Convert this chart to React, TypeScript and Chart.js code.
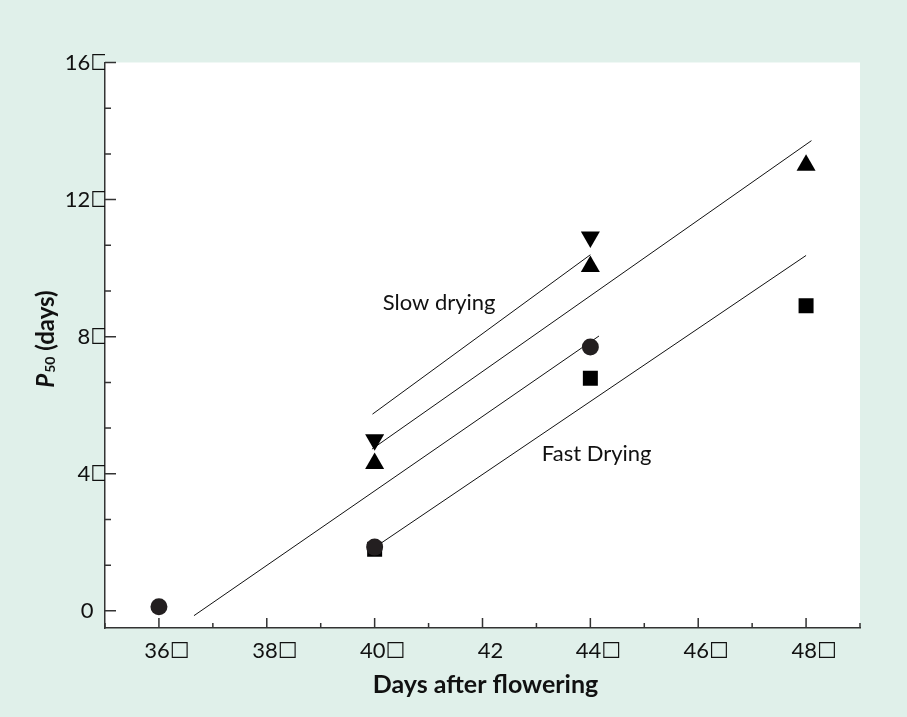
import React, { useEffect, useRef } from 'react';
import { Chart, registerables } from 'chart.js';

Chart.register(...registerables);

// ---- data ----
const BOX = '\u2610';
const xTickValues = [36, 38, 40, 42, 44, 46, 48];
const xTickLabels = ['36' + BOX, '38' + BOX, '40' + BOX, '42', '44' + BOX, '46' + BOX, '48' + BOX];
const yTickValues = [0, 4, 8, 12, 16];
const yTickLabels = ['0\u2003', '4' + BOX, '8' + BOX, '12' + BOX, '16' + BOX];

const circleX = [36, 40, 44];
const circleY = [0.12, 1.86, 7.7];
const squareX = [40, 44, 48];
const squareY = [1.8, 6.79, 8.9];
const upTriangleX = [40, 44, 48];
const upTriangleY = [4.3, 10.05, 13.0];
const downTriangleX = [40, 44];
const downTriangleY = [4.99, 10.91];

const downFitX = [39.96, 44.0];
const downFitY = [5.74, 10.39];
const upFitX = [39.95, 48.1];
const upFitY = [4.72, 13.72];
const circleFitX = [36.65, 44.16];
const circleFitY = [-0.14, 8.02];
const squareFitX = [40.0, 48.0];
const squareFitY = [1.85, 10.37];

const noteTexts = ['Slow drying', 'Fast Drying'];
const noteX = [40.15, 43.1];
const noteY = [8.77, 4.36];

const xTitle = 'Days after flowering';
const yTitleMain = 'P';
const yTitleSub = '50';
const yTitleRest = ' (days)';

const X_MIN = 35, X_MAX = 49, X_MINOR = 1;
const Y_MIN = -0.5, Y_MAX = 16, Y_MINOR = 4 / 3;

const BG = '#e0f0ea';
const AXIS = '#333333';
const INK = '#111111';
const FONT = 'Lato, "DejaVu Sans", sans-serif';

const pts = (xs: number[], ys: number[]) => xs.map((x, i) => ({ x, y: ys[i] }));

export default function App() {
  const ref = useRef<HTMLCanvasElement>(null);

  useEffect(() => {
    document.body.style.margin = '0';
    const canvas = ref.current!;

    const bgPlugin = {
      id: 'bgPlugin',
      beforeDraw(chart: any) {
        const { ctx, chartArea: a, width, height } = chart;
        ctx.save();
        ctx.fillStyle = BG;
        ctx.fillRect(0, 0, width, height);
        ctx.fillStyle = '#ffffff';
        ctx.fillRect(a.left, a.top, a.right - a.left, a.bottom - a.top);
        ctx.restore();
      },
    };

    const tickPlugin = {
      id: 'tickPlugin',
      beforeDatasetsDraw(chart: any) {
        const { ctx, chartArea: a, scales } = chart;
        const xs = scales.x, ys = scales.y;
        ctx.save();
        ctx.strokeStyle = AXIS;
        ctx.lineWidth = 1.5;
        ctx.beginPath();
        const nx = Math.round((X_MAX - X_MIN) / X_MINOR);
        for (let k = 0; k <= nx; k++) {
          const v = X_MIN + k * X_MINOR;
          const px = xs.getPixelForValue(v);
          const major = xTickValues.some((t) => Math.abs(t - v) < 1e-6);
          ctx.moveTo(px, a.bottom);
          ctx.lineTo(px, a.bottom - (major ? 10 : 5));
        }
        const ny = Math.round(Y_MAX / Y_MINOR);
        for (let k = 0; k <= ny; k++) {
          const v = k * Y_MINOR;
          const py = ys.getPixelForValue(v);
          const major = yTickValues.some((t) => Math.abs(t - v) < 1e-6);
          ctx.moveTo(a.left, py);
          ctx.lineTo(a.left + (major ? 11 : 6), py);
        }
        ctx.stroke();
        ctx.restore();
      },
    };

    const textPlugin = {
      id: 'textPlugin',
      afterDraw(chart: any) {
        const { ctx, chartArea: a, scales } = chart;
        ctx.save();
        ctx.fillStyle = INK;
        ctx.textBaseline = 'alphabetic';
        // notes
        ctx.font = `22px ${FONT}`;
        ctx.textAlign = 'left';
        noteTexts.forEach((t, i) => {
          ctx.fillText(t, scales.x.getPixelForValue(noteX[i]), scales.y.getPixelForValue(noteY[i]));
        });
        // x title
        ctx.font = `bold 25px ${FONT}`;
        ctx.textAlign = 'center';
        ctx.fillText(xTitle, (a.left + a.right) / 2 + 3, a.bottom + 65);
        // y title
        ctx.translate(a.left - 51.5, 339);
        ctx.rotate(-Math.PI / 2);
        ctx.textAlign = 'left';
        const fMain = `italic bold 24px ${FONT}`;
        const fSub = `bold 14px ${FONT}`;
        const fRest = `bold 24px ${FONT}`;
        ctx.font = fMain; const w1 = ctx.measureText(yTitleMain).width;
        ctx.font = fSub; const w2 = ctx.measureText(yTitleSub).width;
        ctx.font = fRest; const w3 = ctx.measureText(yTitleRest).width;
        let x0 = -(w1 + w2 + w3 + 1) / 2;
        ctx.font = fMain; ctx.fillText(yTitleMain, x0, 0); x0 += w1 + 1;
        ctx.font = fSub; ctx.fillText(yTitleSub, x0, 1); x0 += w2;
        ctx.font = fRest; ctx.fillText(yTitleRest, x0, 0);
        ctx.restore();
      },
    };

    const marker = (data: any, style: string, radius: number, color: string, rotation = 0) => ({
      data,
      pointStyle: style,
      pointRadius: radius,
      pointRotation: rotation,
      backgroundColor: color,
      borderColor: color,
      borderWidth: 0,
      showLine: false,
      order: 0,
    });
    const fit = (data: any) => ({
      data,
      showLine: true,
      borderColor: INK,
      borderWidth: 1,
      pointRadius: 0,
      fill: false,
      order: 1,
    });

    const chart = new Chart(canvas, {
      type: 'scatter',
      data: {
        datasets: [
          marker(pts(circleX, circleY), 'circle', 8.5, '#231f20'),
          marker(pts(squareX, squareY), 'rect', 10.6, '#000000'),
          marker(pts(upTriangleX, upTriangleY), 'triangle', 11, '#000000'),
          marker(pts(downTriangleX, downTriangleY), 'triangle', 11, '#000000', 180),
          fit(pts(downFitX, downFitY)),
          fit(pts(upFitX, upFitY)),
          fit(pts(circleFitX, circleFitY)),
          fit(pts(squareFitX, squareFitY)),
        ] as any,
      },
      options: {
        animation: false,
        responsive: false,
        layout: { padding: { left: 0, top: 62.5, right: 47, bottom: 0 } },
        plugins: { legend: { display: false }, tooltip: { enabled: false } },
        scales: {
          x: {
            type: 'linear',
            min: X_MIN,
            max: X_MAX,
            afterBuildTicks: (s: any) => { s.ticks = xTickValues.map((v) => ({ value: v })); },
            afterFit: (s: any) => { s.height = 89; },
            ticks: {
              callback: (v: any) => xTickLabels[xTickValues.indexOf(Number(v))] ?? '',
              font: { family: FONT, size: 22 },
              color: INK,
              padding: 10,
              labelOffset: 8,
              maxRotation: 0,
              autoSkip: false,
            },
            grid: { display: false, drawTicks: false, tickLength: 0 },
            border: { display: true, color: AXIS, width: 1.5 },
          },
          y: {
            type: 'linear',
            min: Y_MIN,
            max: Y_MAX,
            afterBuildTicks: (s: any) => { s.ticks = yTickValues.map((v) => ({ value: v })); },
            afterFit: (s: any) => { s.width = 105; },
            ticks: {
              callback: (v: any) => yTickLabels[yTickValues.indexOf(Number(v))] ?? '',
              font: { family: FONT, size: 22 },
              color: INK,
              padding: -5,
              autoSkip: false,
            },
            grid: { display: false, drawTicks: false, tickLength: 0 },
            border: { display: true, color: AXIS, width: 1.5 },
          },
        },
      } as any,
      plugins: [bgPlugin, tickPlugin, textPlugin],
    });
    return () => chart.destroy();
  }, []);

  return (
    <div style={{ width: 907, height: 717, background: BG }}>
      <canvas ref={ref} width={907} height={717} style={{ display: 'block', width: 907, height: 717 }} />
    </div>
  );
}
